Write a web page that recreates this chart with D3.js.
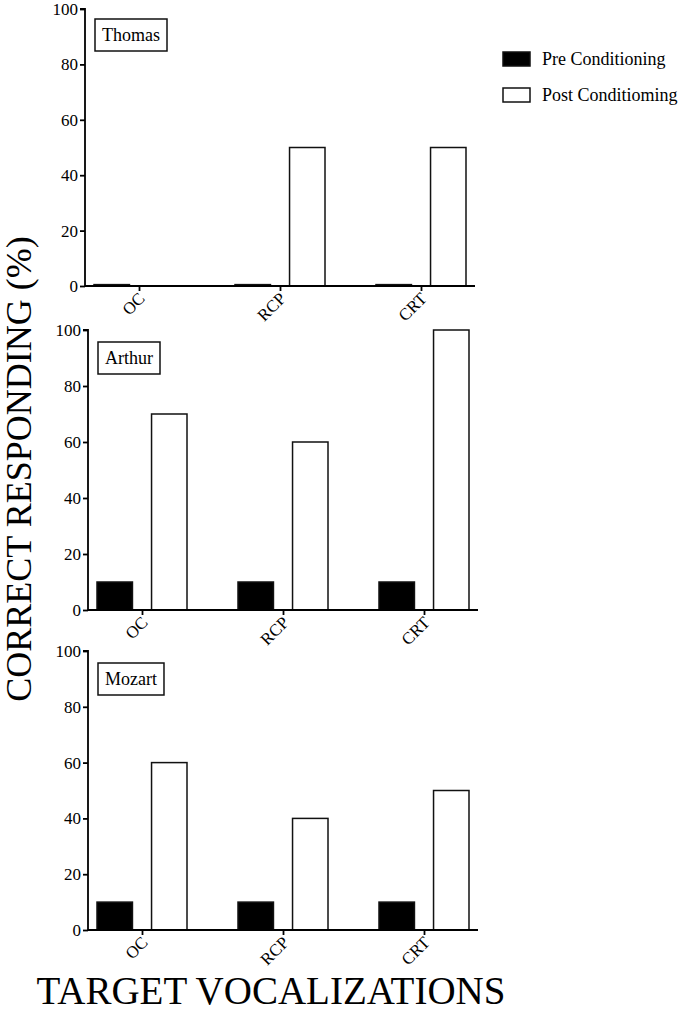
<!DOCTYPE html>
<html>
<head>
<meta charset="utf-8">
<script src="https://cdn.jsdelivr.net/npm/d3@7"></script>
<style>
  body { margin: 0; background: #fff; }
  svg { display: block; }
  svg text { font-family: "Liberation Serif", "DejaVu Serif", serif !important; fill: #000; }
  .tick line, .domain { stroke: #000; stroke-width: 1.8px; }
</style>
</head>
<body>
<div id="okvir"></div>
<script>
// data
const categories = ["OC", "RCP", "CRT"]
const subjects = ["Thomas", "Arthur", "Mozart"]
const seriesNames = ["Pre Conditioning", "Post Conditioming"]
const preValues = [[0.5, 0.5, 0.5], [10, 10, 10], [10, 10, 10]]
const postValues = [[0, 50, 50], [70, 60, 100], [60, 40, 50]]
const yTicks = [0, 20, 40, 60, 80, 100]

// layout of the three panels
const panelTops = [9, 330, 651]
const panelHeights = [277, 280, 279]
const panelLefts = [85, 88, 88]
const panelWidth = 390
const serif = "'Liberation Serif', 'DejaVu Serif', serif"

const svg = d3.select("#okvir")
  .append("svg")
    .attr("width", 685)
    .attr("height", 1011)
    .attr("font-family", serif)

const xScale = d3.scalePoint()
  .domain(categories)
  .range([0, panelWidth])
  .padding(0.383)

const seriesScale = d3.scaleBand()
  .domain(seriesNames)
  .range([-45, 45])
  .paddingInner(0.35)

const fills = ["#000", "#fff"]

subjects.forEach((name, i) => {
  const h = panelHeights[i]
  const yScale = d3.scaleLinear()
    .domain([0, 100])
    .range([h, 0])

  const g = svg.append("g")
    .attr("transform", `translate(${panelLefts[i]},${panelTops[i]})`)

  const rows = categories.map((c, j) => ({
    cat: c,
    values: [preValues[i][j], postValues[i][j]],
  }))

  // bars
  const groups = g.selectAll(".grp")
    .data(rows)
    .join("g")
      .attr("class", "grp")
      .attr("transform", d => `translate(${xScale(d.cat)},0)`)

  groups.selectAll("rect")
    .data(d => d.values.map((v, k) => ({ v, k })))
    .join("rect")
      .attr("x", d => seriesScale(seriesNames[d.k]))
      .attr("width", seriesScale.bandwidth())
      .attr("y", d => yScale(d.v))
      .attr("height", d => h - yScale(d.v))
      .attr("fill", d => fills[d.k])
      .attr("stroke", "#111")
      .attr("stroke-width", 1.5)
      .attr("visibility", d => d.v > 0 ? "visible" : "hidden")

  // axes
  const yAxis = g.append("g")
    .call(d3.axisLeft(yScale).tickValues(yTicks).tickSize(5).tickPadding(2))
    .attr("font-family", serif)
  yAxis.selectAll("text").style("font-size", "17px")
  yAxis.select(".domain").attr("d", `M-5,0H0V${h}`)

  const xAxis = g.append("g")
    .attr("transform", `translate(0,${h})`)
    .call(d3.axisBottom(xScale).tickSize(5).tickSizeOuter(0))
    .attr("font-family", serif)
  xAxis.select(".domain").attr("d", `M0,0H${panelWidth}`)
  xAxis.selectAll("text")
    .style("font-size", "17px")
    .attr("text-anchor", "end")
    .attr("dy", "0.3em")
    .attr("dx", "-0.3em")
    .attr("y", 9)
    .attr("transform", "rotate(-45)")

  // subject label in a box
  const lab = g.append("g").attr("transform", `translate(10,${i === 0 ? 10 : 12})`)
  const t = lab.append("text")
    .attr("x", 7)
    .attr("y", 22)
    .style("font-size", "18px")
    .text(name)
  const w = t.node().getComputedTextLength()
  lab.insert("rect", "text")
    .attr("width", w + 14)
    .attr("height", 32)
    .attr("fill", "#fff")
    .attr("stroke", "#111")
    .attr("stroke-width", 1.5)
})

// legend
const legend = svg.append("g").attr("transform", "translate(503,52)")
seriesNames.forEach((s, k) => {
  legend.append("rect")
    .attr("x", 0)
    .attr("y", k * 36)
    .attr("width", 27)
    .attr("height", 14)
    .attr("fill", fills[k])
    .attr("stroke", "#111")
    .attr("stroke-width", 1.5)
  legend.append("text")
    .attr("x", 39)
    .attr("y", k * 36 + 13)
    .style("font-size", "18px")
    .text(s)
})

// axis titles
svg.append("text")
  .attr("transform", "translate(31,469) rotate(-90)")
  .attr("text-anchor", "middle")
  .style("font-size", "36px")
  .text("CORRECT RESPONDING (%)")

svg.append("text")
  .attr("x", 271)
  .attr("y", 1004)
  .attr("text-anchor", "middle")
  .style("font-size", "39px")
  .text("TARGET VOCALIZATIONS")
</script>
</body>
</html>
